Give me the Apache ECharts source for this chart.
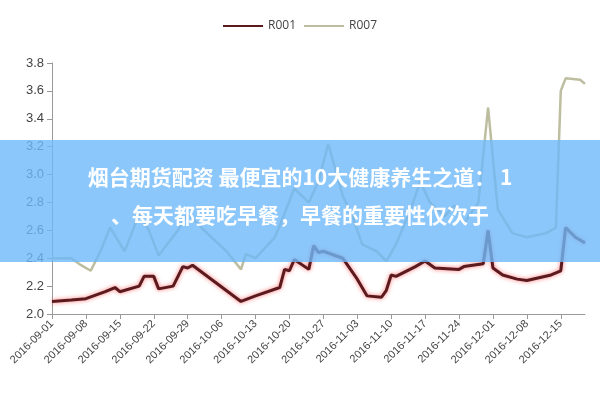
<!DOCTYPE html><html><head><meta charset="utf-8"><script src="https://cdn.jsdelivr.net/npm/echarts@6/dist/echarts.min.js"></script></head><body style="margin:0"><div id="c" style="width:600px;height:400px"></div><script>
const r001 = [["09-01",2.09],["09-05",2.10],["09-08",2.11],["09-12",2.16],["09-14",2.19],["09-15",2.16],["09-19",2.20],["09-20",2.27],["09-22",2.27],["09-23",2.18],["09-26",2.20],["09-28",2.34],["09-29",2.33],["09-30",2.35],["10-10",2.09],["10-13",2.13],["10-18",2.19],["10-19",2.32],["10-20",2.31],["10-21",2.39],["10-24",2.32],["10-25",2.49],["10-26",2.44],["10-27",2.45],["10-31",2.40],["11-03",2.25],["11-05",2.13],["11-08",2.12],["11-09",2.17],["11-10",2.28],["11-11",2.27],["11-15",2.34],["11-17",2.38],["11-19",2.33],["11-24",2.32],["11-25",2.34],["11-29",2.36],["11-30",2.60],["12-01",2.33],["12-03",2.28],["12-06",2.25],["12-08",2.24],["12-13",2.28],["12-15",2.31],["12-16",2.62],["12-18",2.55],["12-20",2.51]];
const r007 = [["09-01",2.40],["09-05",2.40],["09-07",2.35],["09-09",2.31],["09-11",2.45],["09-13",2.62],["09-16",2.45],["09-19",2.72],["09-21",2.60],["09-23",2.42],["09-27",2.60],["09-29",2.72],["10-03",2.58],["10-07",2.45],["10-10",2.32],["10-11",2.43],["10-13",2.40],["10-17",2.55],["10-19",2.72],["10-21",2.90],["10-24",2.80],["10-26",2.95],["10-28",3.22],["10-31",2.85],["11-02",2.70],["11-04",2.50],["11-07",2.45],["11-09",2.38],["11-11",2.50],["11-14",2.75],["11-16",2.95],["11-18",2.80],["11-21",2.70],["11-23",2.78],["11-25",2.65],["11-28",2.80],["11-30",3.48],["12-02",2.75],["12-05",2.58],["12-08",2.55],["12-12",2.58],["12-14",2.62],["12-15",3.60],["12-16",3.69],["12-19",3.68],["12-20",3.65]];
const yTicks = [2.0,2.2,2.4,2.6,2.8,3.0,3.2,3.4,3.6,3.8];
const title1 = "烟台期货配资 最便宜的10大健康养生之道： 1";
const title2 = "、每天都要吃早餐，早餐的重要性仅次于";
const cats = [];
for (let d = new Date(2016,8,1); d <= new Date(2016,11,20); d.setDate(d.getDate()+1)) {
  cats.push(String(d.getMonth()+1).padStart(2,'0')+'-'+String(d.getDate()).padStart(2,'0'));
}
const ch = echarts.init(document.getElementById('c'));
ch.setOption({
  animation:false,
  legend:{top:15,left:'center',itemWidth:40,itemHeight:2,icon:'rect',textStyle:{fontSize:12,color:'#444',fontFamily:'Open Sans'},data:['R001','R007']},
  grid:{left:52,right:15,top:63,bottom:86},
  xAxis:{type:'category',data:cats,boundaryGap:false,
    axisLine:{lineStyle:{color:'#999'}},axisTick:{interval:6,lineStyle:{color:'#999'}},
    axisLabel:{interval:6,rotate:45,fontSize:11,color:'#444',formatter:v=>'2016-'+v}},
  yAxis:{type:'value',min:2.0,max:3.8,interval:0.2,splitLine:{show:false},
    axisLine:{show:true,lineStyle:{color:'#999'}},axisTick:{show:true,lineStyle:{color:'#999'}},
    axisLabel:{fontSize:13,color:'#444',formatter:v=>v.toFixed(1)}},
  series:[
    {name:'R001',type:'line',data:r001,showSymbol:false,color:'#5a1a1e',lineStyle:{width:3,shadowColor:'rgba(255,60,60,0.7)',shadowBlur:4}},
    {name:'R007',type:'line',data:r007,showSymbol:false,color:'#bdbda0',lineStyle:{width:2.5}}
  ],
  graphic:[
    {type:'rect',left:0,top:140,shape:{width:600,height:122},style:{fill:'rgba(110,185,250,0.8)'},z:100},
    {type:'text',left:'center',top:167,style:{text:title1,fill:'#fff',font:'bold 21px "Noto Sans CJK SC"'},z:101},
    {type:'text',left:'center',top:205,style:{text:title2,fill:'#fff',font:'bold 21px "Noto Sans CJK SC"'},z:101}
  ]
});
</script></body></html>
